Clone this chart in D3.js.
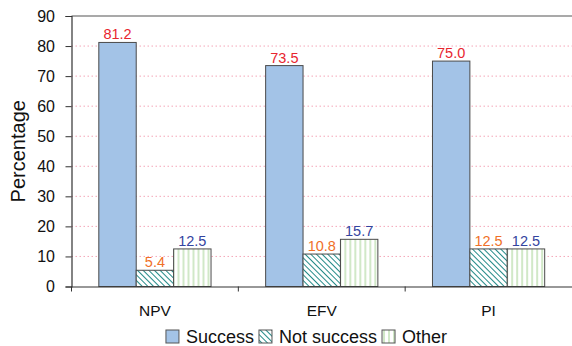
<!DOCTYPE html>
<html><head><meta charset="utf-8">
<script src="https://cdn.jsdelivr.net/npm/d3@7"></script>
<style>body{margin:0;background:#fff}svg{display:block;font-family:"Liberation Sans",Arial,sans-serif}</style>
</head><body><svg id="c" width="572" height="346"></svg>
<script>
const categories = ["NPV", "EFV", "PI"];
const seriesNames = ["Success", "Not success", "Other"];
const success = [81.2, 73.5, 75.0];
const notSuccess = [5.4, 10.8, 12.5];
const other = [12.5, 15.7, 12.5];
const yTicks = [0, 10, 20, 30, 40, 50, 60, 70, 80, 90];

const series = [success, notSuccess, other];
const svg = d3.select("#c");
const defs = svg.append("defs");
const ph = defs.append("pattern").attr("id","hatch").attr("patternUnits","userSpaceOnUse")
  .attr("width",4).attr("height",4).attr("patternTransform","rotate(45)");
ph.append("rect").attr("width",4).attr("height",4).attr("fill","#fff");
ph.append("line").attr("x1",0).attr("y1",0).attr("x2",4).attr("y2",0).attr("stroke","#238a88").attr("stroke-width",2);
const pv = defs.append("pattern").attr("id","vert").attr("patternUnits","userSpaceOnUse")
  .attr("width",5).attr("height",5);
pv.append("rect").attr("width",5).attr("height",5).attr("fill","#fff");
pv.append("line").attr("x1",2).attr("y1",0).attr("x2",2).attr("y2",5).attr("stroke","#b9dcaa").attr("stroke-width",1.3);

const fills = ["#a3c3e7", "url(#hatch)", "url(#vert)"];
const labelColors = ["#e8252f", "#f07028", "#3344a0"];

const L = 71.5, R = 572, T = 16, B = 286.5;
const x0 = d3.scaleBand().domain(categories).range([L, R]);
const x1 = d3.scaleBand().domain(seriesNames).range([0, x0.bandwidth()]).paddingOuter(0.73).paddingInner(0);
const y = d3.scaleLinear().domain([0, 90]).range([B, T]);

// gridlines
svg.append("g").selectAll("line").data(yTicks.filter(d => d > 0 && d < 90)).join("line")
  .attr("x1", L).attr("x2", R).attr("y1", d => y(d)).attr("y2", d => y(d))
  .attr("stroke", "#f4a6b8").attr("stroke-width", 1).attr("stroke-dasharray", "1.5,2.5");
// top frame line
svg.append("line").attr("x1", L).attr("x2", R).attr("y1", T).attr("y2", T).attr("stroke", "#555").attr("stroke-width", 1.2);

// bars
categories.forEach((c, i) => {
  const g = svg.append("g").attr("transform", `translate(${x0(c)},0)`);
  seriesNames.forEach((s, j) => {
    const v = series[j][i];
    g.append("rect").attr("x", x1(s)).attr("y", y(v)).attr("width", x1.bandwidth()).attr("height", y(0) - y(v))
      .attr("fill", fills[j]).attr("stroke", "#4a4a4a").attr("stroke-width", 1);
    g.append("text").attr("x", x1(s) + x1.bandwidth() / 2).attr("y", y(v) - 3)
      .attr("text-anchor", "middle").attr("font-size", 14.5).attr("fill", labelColors[j]).text(v.toFixed(1));
  });
});

// y axis
const ya = svg.append("g").attr("transform", `translate(${L},0)`)
  .call(d3.axisLeft(y).tickValues(yTicks).tickSize(6).tickPadding(10.5));
ya.select(".domain").attr("stroke", "#333").attr("stroke-width", 1.2);
ya.selectAll(".tick line").attr("stroke", "#333");
ya.selectAll("text").attr("font-size", 16).attr("fill", "#111").attr("font-family", "Liberation Sans, Arial, sans-serif");

// x axis
const xa = svg.append("g").attr("transform", `translate(0,${B})`)
  .call(d3.axisBottom(x0).tickSize(0).tickPadding(18.5));
xa.select(".domain").attr("stroke", "#333").attr("stroke-width", 1.2);
xa.selectAll("text").attr("font-size", 15.5).attr("fill", "#111").attr("font-family", "Liberation Sans, Arial, sans-serif");
// boundary ticks
svg.append("g").selectAll("line").data(categories).join("line")
  .attr("x1", d => x0(d)).attr("x2", d => x0(d)).attr("y1", B).attr("y2", B + 5)
  .attr("stroke", "#333");

// y title
svg.append("text").attr("transform", `translate(25,${(T + B) / 2}) rotate(-90)`)
  .attr("text-anchor", "middle").attr("font-size", 20).attr("fill", "#111").text("Percentage");

// legend (laid out from measured text widths, centred)
const leg = svg.append("g");
const items = seriesNames.map((s, j) => {
  const g = leg.append("g");
  g.append("rect").attr("x", 0).attr("y", 330).attr("width", 13).attr("height", 13)
    .attr("fill", fills[j]).attr("stroke", "#555").attr("stroke-width", 1);
  const t = g.append("text").attr("x", 20).attr("y", 342.5).attr("font-size", 18).attr("fill", "#111").text(s);
  return { g, w: 20 + t.node().getComputedTextLength() };
});
const gap = 5;
const total = d3.sum(items, d => d.w) + gap * (items.length - 1);
let cx = 306.5 - total / 2;
items.forEach(it => { it.g.attr("transform", `translate(${cx},0)`); cx += it.w + gap; });
</script></body></html>
